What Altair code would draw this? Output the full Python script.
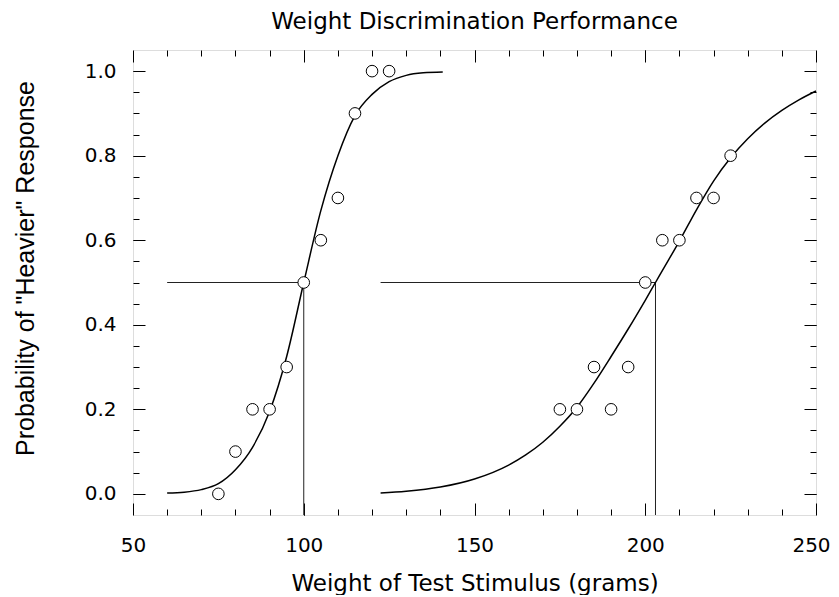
import altair as alt
import pandas as pd

# Observed proportions of "heavier" responses
left_x = [75, 80, 85, 90, 95, 100, 105, 110, 115, 120, 125]
left_y = [0.0, 0.1, 0.2, 0.2, 0.3, 0.5, 0.6, 0.7, 0.9, 1.0, 1.0]
right_x = [175, 180, 185, 190, 195, 200, 205, 210, 215, 220, 225]
right_y = [0.2, 0.2, 0.3, 0.2, 0.3, 0.5, 0.6, 0.6, 0.7, 0.7, 0.8]

# Fitted psychometric curves
fitL_x = [60, 65, 70, 75, 80, 85, 90, 95, 100, 105, 110, 115, 120, 125, 130, 135, 140.7]
fitL_y = [0.002, 0.004, 0.010, 0.024, 0.057, 0.11, 0.195, 0.325, 0.5, 0.67, 0.80,
          0.895, 0.945, 0.975, 0.99, 0.996, 0.998]
fitR_x = [122.5, 130, 140, 150, 160, 165, 170, 175, 180, 185, 190, 195, 200, 203,
          205, 210, 215, 220, 225, 230, 235, 240, 245, 250]
fitR_y = [0.002, 0.006, 0.016, 0.035, 0.068, 0.092, 0.122, 0.16, 0.205, 0.262, 0.325,
          0.39, 0.458, 0.5, 0.528, 0.598, 0.672, 0.74, 0.795, 0.84, 0.877, 0.907,
          0.932, 0.953]

# 50% threshold guide lines
pse_x = [100, 203]
pse_start = [60, 122.5]
pse_y = [0.5, 0.5]
floor_y = [-0.05, -0.05]

# Axis ticks
x_major = [50, 100, 150, 200, 250]
x_minor = list(range(60, 250, 10))
y_major = [0.0, 0.2, 0.4, 0.6, 0.8, 1.0]
y_minor = [round(0.05 * i, 2) for i in range(0, 21)]

HFONT = "DejaVu Sans"
VFONT = "Liberation Sans"

pts = pd.DataFrame({"x": left_x + right_x, "y": left_y + right_y})
fit = pd.DataFrame({
    "x": fitL_x + fitR_x,
    "y": fitL_y + fitR_y,
    "s": ["L"] * len(fitL_x) + ["R"] * len(fitR_x),
})
hl = pd.DataFrame({"x1": pse_start, "x2": pse_x, "y": pse_y})
vl = pd.DataFrame({"x": pse_x, "y1": floor_y, "y2": pse_y})

xs = alt.Scale(domain=[50, 250], nice=False, zero=False)
ys = alt.Scale(domain=[-0.05, 1.05], nice=False, zero=False)


def ax(orient, values, size, **kw):
    base = dict(orient=orient, values=values, tickSize=size, offset=-size,
                domain=False, grid=False, tickColor="black", tickWidth=1)
    if "labels" not in kw:
        base["labels"] = False
        base["title"] = None
    base.update(kw)
    return alt.Axis(**base)


x_bottom = ax("bottom", x_major, 12, labels=True, labelFont=HFONT, labelFontSize=20,
              labelColor="black", labelPadding=20, labelFlush=False,
              labelOverlap=False,
              labelOffset={"condition": {"test": "datum.value >= 250", "value": -5},
                           "value": 0},
              title="Weight of Test Stimulus (grams)", titleFont=HFONT,
              titleFontSize=23, titleFontWeight="normal", titleColor="black",
              titleY=87, titleBaseline="alphabetic")
y_left = ax("left", y_major, 12, labels=True, format=".1f", labelFont=HFONT,
            labelFontSize=20, labelColor="black", labelPadding=17,
            labelFlush=False, labelOverlap=False,
            title='Probability of "Heavier" Response', titleFont=VFONT,
            titleFontSize=25, titleFontWeight="normal", titleColor="black",
            titleX=-112, titleY=218, titleBaseline="alphabetic")

hrules = alt.Chart(hl).mark_rule(color="#222222", strokeWidth=1).encode(
    x=alt.X("x1:Q", scale=xs, axis=x_bottom),
    x2="x2:Q",
    y=alt.Y("y:Q", scale=ys, axis=y_left),
)
vrules = alt.Chart(vl).mark_rule(color="#222222", strokeWidth=1).encode(
    x=alt.X("x:Q", scale=xs, axis=ax("bottom", x_minor, 6)),
    y=alt.Y("y1:Q", scale=ys, axis=ax("left", y_minor, 6)),
    y2="y2:Q",
)
curves = alt.Chart(fit).mark_line(color="black", strokeWidth=1.5,
                                  interpolate="monotone").encode(
    x=alt.X("x:Q", scale=xs, axis=ax("top", x_major, 12)),
    y=alt.Y("y:Q", scale=ys, axis=ax("right", y_major, 12)),
    detail="s:N",
)
points = alt.Chart(pts).mark_point(shape="circle", filled=True, fill="white",
                                   stroke="black", strokeWidth=1, size=135,
                                   opacity=1).encode(
    x=alt.X("x:Q", scale=xs, axis=ax("top", x_minor, 6)),
    y=alt.Y("y:Q", scale=ys, axis=ax("right", y_minor, 6)),
)

chart = alt.layer(hrules, vrules, curves, points).resolve_axis(
    x="independent", y="independent"
).properties(
    width=683,
    height=465,
    autosize=alt.AutoSizeParams(type="none"),
    padding={"left": 125, "top": 42, "right": 15, "bottom": 80},
    title=alt.TitleParams("Weight Discrimination Performance", font=HFONT,
                          fontSize=23, fontWeight="normal", color="black",
                          baseline="alphabetic", offset=0, dy=2, anchor="middle"),
).configure_view(stroke="black", strokeWidth=1.3).configure(background="white")

chart.save("out.html", embed_options={"renderer": "svg", "actions": False})
